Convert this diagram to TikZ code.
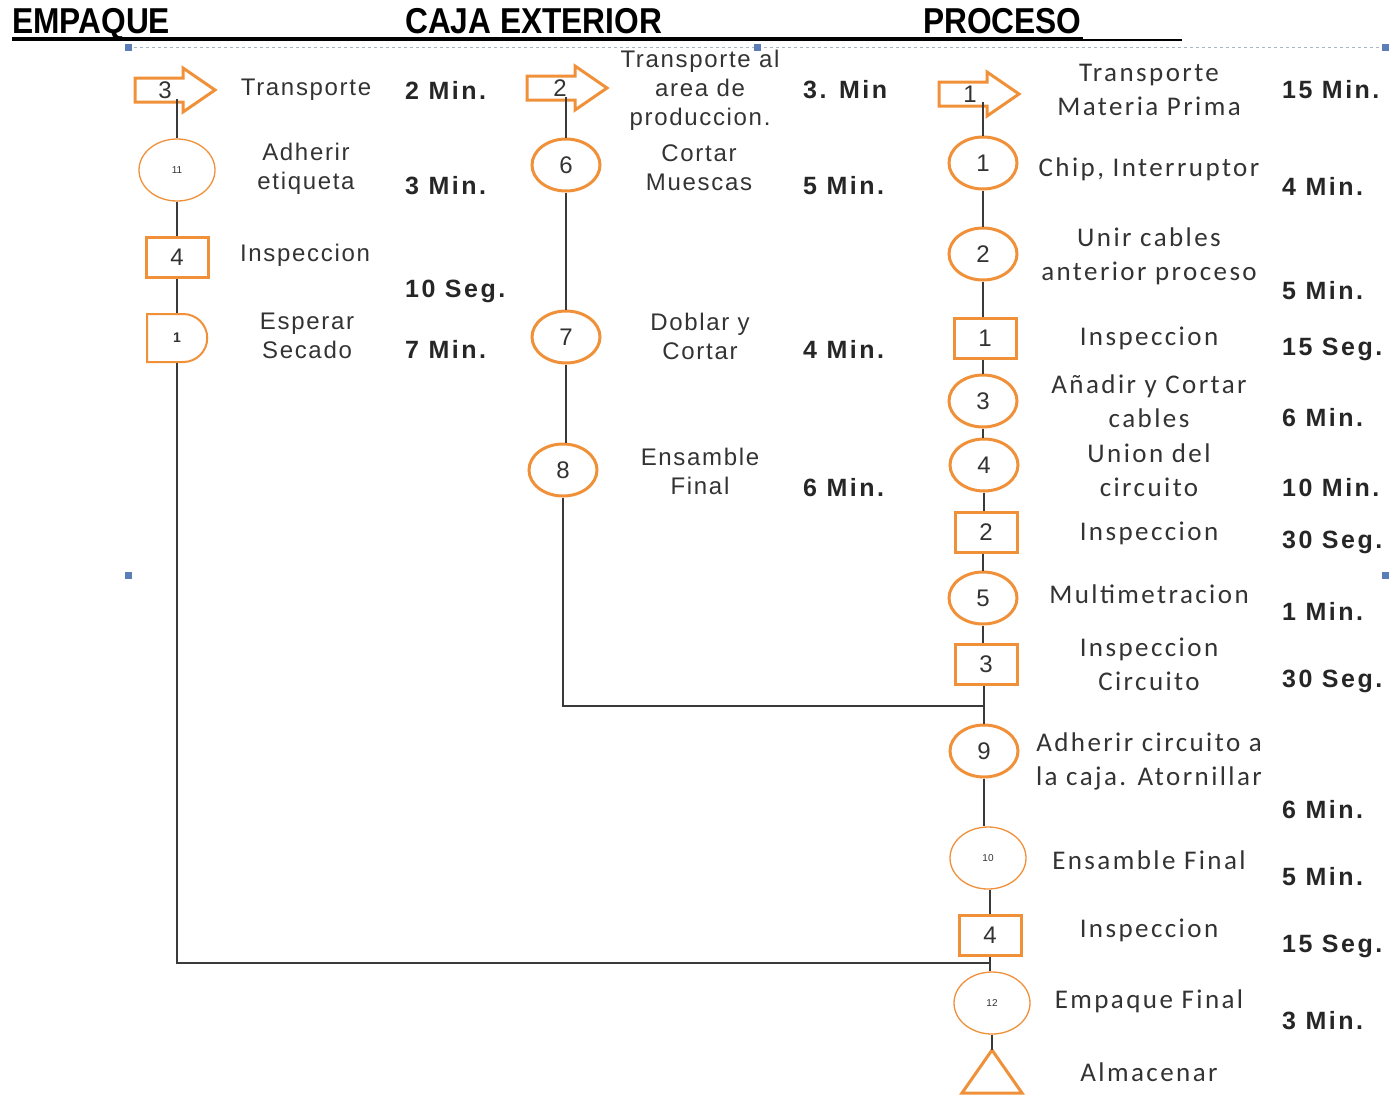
\documentclass[tikz,border=0pt]{standalone}
\usepackage{fontspec}
\setmainfont{Liberation Sans}
\newfontfamily\arialsp{Liberation Sans}[LetterSpace=7]
\newfontfamily\calibrisp{Carlito}[LetterSpace=9]
\newfontfamily\tiemposp{Liberation Sans}[LetterSpace=10]
\newfontfamily\titulofont{Liberation Sans}[FakeStretch=0.88]
\usetikzlibrary{shapes.geometric,shapes.misc}

\definecolor{naranja}{HTML}{F0913A}
\definecolor{linea}{HTML}{3A3A3A}
\definecolor{texto}{HTML}{333333}
\definecolor{marco}{HTML}{A9B6C8}
\definecolor{asa}{HTML}{5B7DB8}

\tikzset{
  flujo/.style={draw=linea, line width=2pt},
  oper/.style={ellipse, draw=naranja, line width=3pt, fill=white, minimum width=68pt, minimum height=52pt, inner sep=0pt, text=texto, font=\arialsp\fontsize{24}{24}\selectfont},
  operf/.style={oper, line width=1.3pt, minimum width=76pt, minimum height=62pt, font=\fontsize{10}{10}\selectfont},
  insp/.style={rectangle, draw=naranja, line width=3pt, fill=white, minimum width=62pt, minimum height=40pt, inner sep=0pt, text=texto, font=\arialsp\fontsize{24}{24}\selectfont},
  espera/.style={rounded rectangle, rounded rectangle left arc=none, draw=naranja, line width=2pt, fill=white, minimum width=60pt, minimum height=48pt, inner sep=0pt, text=texto, font=\bfseries\fontsize{14}{14}\selectfont},
  numtr/.style={inner sep=0pt, text=texto, font=\arialsp\fontsize{24}{24}\selectfont},
  desc/.style={align=center, text=texto, font=\arialsp\fontsize{24}{29}\selectfont},
  descp/.style={align=center, text=texto, font=\calibrisp\fontsize{27}{34}\selectfont},
  tiempo/.style={anchor=west, inner sep=0pt, text=black!85, font=\tiemposp\bfseries\fontsize{25}{25}\selectfont},
  titulo/.style={anchor=base west, inner sep=0pt, font=\titulofont\bfseries\fontsize{36}{36}\selectfont},
  transp/.pic={\draw[naranja, line width=3pt] (-40,-12) -- (8,-12) -- (8,-22) -- (40,0) -- (8,22) -- (8,12) -- (-40,12) -- cycle;}
}

\begin{document}
\begin{tikzpicture}[x=1pt, y=-1pt]
\useasboundingbox (0,0) rectangle (1392,1096);
\def\xe{177} % linea empaque
\def\xc{566} % linea caja
\def\xp{983} % linea proceso
\def\xq{990} % linea proceso, abajo

% titulos
\node[titulo] (h1) at (12,33) {EMPAQUE};
\node[titulo] (h2) at (405,33) {CAJA EXTERIOR};
\node[titulo] (h3) at (923,33) {PROCESO};
\draw[line width=3.5pt] (12,39) -- (1083,39);
\draw[line width=2pt] (1083,39.5) -- (1182,39.5);

% marco de seleccion
\draw[marco, dashed, line width=1pt] (128,47) -- (1385,47);
\foreach \p in {(128,47),(757,47),(1385,47),(128,575),(1385,575)}
  \fill[asa] \p ++(-3.5,-3.5) rectangle ++(7,7);

% --- EMPAQUE
\pic at (\xe-2,90) {transp};
\node[numtr] (t3) at (\xe-12,90) {3};
\node[operf] (o11) at (\xe,170) {11};
\node[insp] (i4) at (\xe,257) {4};
\node[espera] (d1) at (\xe,338) {1};
\node[desc] (ea) at (306,90) {Transporte};
\node[desc] (eb) at (306,169) {Adherir\\etiqueta};
\node[desc] (ec) at (305,255) {Inspeccion};
\node[desc] (ed) at (307,336) {Esperar\\Secado};
\foreach \t/\y [count=\i] in {2 Min./90, 3 Min./186, 10 Seg./291, 7 Min./349}
  \node[tiempo] (te\i) at (405,\y) {\t};

% --- CAJA EXTERIOR
\pic at (\xc+1,88) {transp};
\node[numtr] (t2) at (\xc-6,88) {2};
\node[oper] (o6) at (\xc,165) {6};
\node[oper] (o7) at (\xc,337) {7};
\node[oper] (o8) at (\xc-3,470) {8};
\node[desc] (ca) at (700,90) {Transporte al\\area de\\produccion.};
\node[desc] (cb) at (699,168) {Cortar\\Muescas};
\node[desc] (cc) at (700,336) {Doblar y\\Cortar};
\node[desc] (cd) at (700,471) {Ensamble\\Final};
\foreach \t/\y [count=\i] in {3. Min/90, 5 Min./186, 4 Min./349, 6 Min./488}
  \node[tiempo] (tc\i) at (803,\y) {\t};

% --- PROCESO
\pic at (\xp-4,94) {transp};
\node[numtr] (t1) at (\xp-13,94) {1};
\node[oper] (p1) at (\xp,163) {1};
\node[oper] (p2) at (\xp,254) {2};
\node[insp] (q1) at (\xp+2,338) {1};
\node[oper] (p3) at (\xp,401) {3};
\node[oper] (p4) at (\xp+1,465) {4};
\node[insp] (q2) at (\xp+3,532) {2};
\node[oper] (p5) at (\xp,598) {5};
\node[insp] (q3) at (\xp+3,664) {3};
\node[oper] (p9) at (\xp+1,751) {9};
\node[operf] (p10) at (\xq-2,858) {10};
\node[insp] (q4) at (\xq,935) {4};
\node[operf] (p12) at (\xq+2,1003) {12};
\coordinate (alm) at (\xq+2,1050);
\draw[naranja, line width=3pt] (alm) -- ++(30,43) -- ++(-60,0) -- cycle;
\foreach \d/\y [count=\i] in {{Transporte\\Materia Prima}/90, {Chip, Interruptor}/169,
    {Unir cables\\anterior proceso}/256, Inspeccion/338, {Añadir y Cortar\\cables}/401,
    {Union del\\circuito}/470, Inspeccion/533, Multimetracion/594, {Inspeccion\\Circuito}/664,
    {Adherir circuito a\\la caja. Atornillar}/761, Ensamble Final/860, Inspeccion/930,
    Empaque Final/1001, Almacenar/1072}
  \node[descp] (pd\i) at (1149,\y) {\d};
\foreach \t/\y [count=\i] in {15 Min./90, 4 Min./186, 5 Min./291, 15 Seg./349, 6 Min./418,
    10 Min./488, 30 Seg./542, 1 Min./611, 30 Seg./681, 6 Min./810, 5 Min./877,
    15 Seg./946, 3 Min./1021}
  \node[tiempo] (tp\i) at (1282,\y) {\t};

% uniones
\coordinate (j2) at (\xp,706);
\coordinate (j1) at (\xq,963);
\draw[flujo] (t3.south -| o11) -- (o11) -- (i4) -- (d1) |- (j1);
\draw[flujo] (t2.south -| o6) -- (o6) -- (o7) -- (o7 |- o8.north);
\draw[flujo] (o8) |- (j2);
\draw[flujo] (t1.south -| p1) -- (p1) -- (p2) -- (p2 |- q1.north);
\draw[flujo] (q1.south -| p3) -- (p3) -- (p4.north -| p3);
\draw[flujo] (p4) -- (p4 |- q2.north);
\draw[flujo] (q2.south -| p5) -- (p5) -- (p5 |- q3.north);
\draw[flujo] (q3.south -| p9) -- (p9) -- (p9 |- p10.north);
\draw[flujo] (p10.south -| q4) -- (q4) -- (q4 |- p12.north);
\draw[flujo] (p12) -- (alm);
\end{tikzpicture}
\end{document}
